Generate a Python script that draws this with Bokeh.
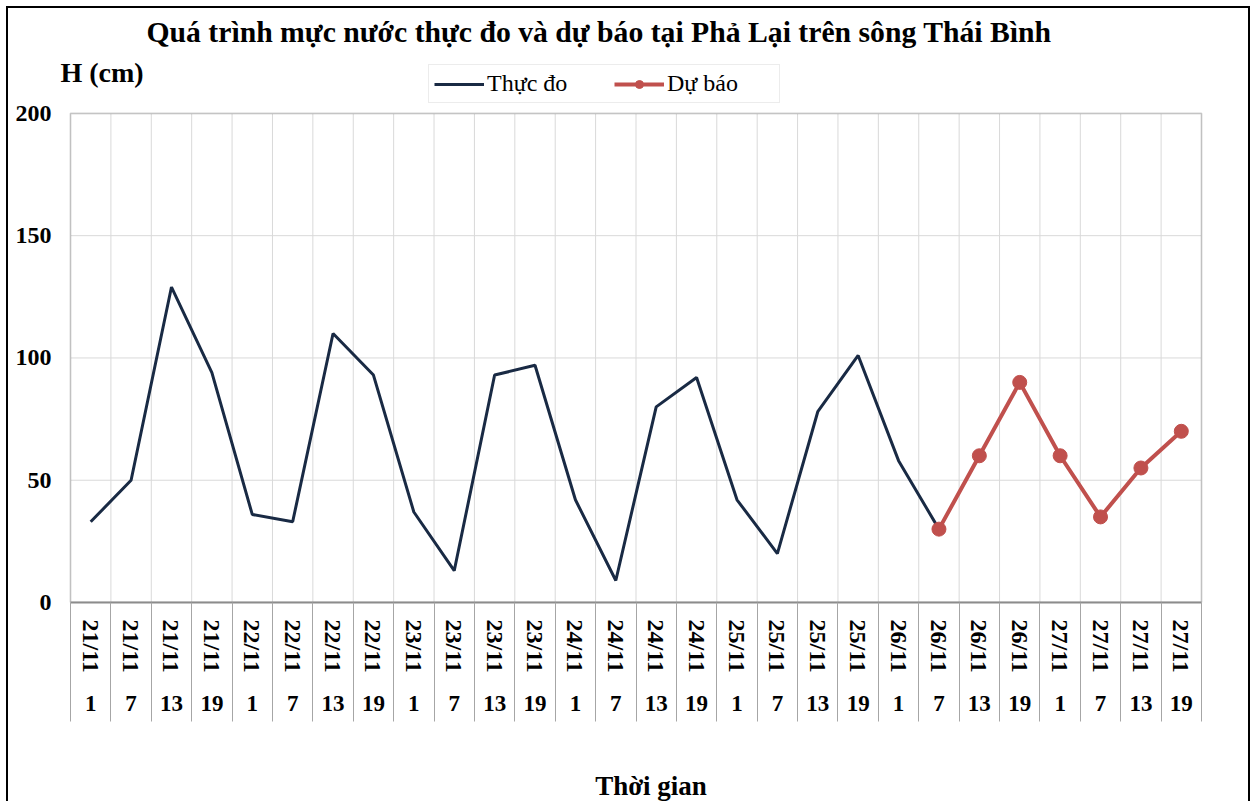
from bokeh.plotting import figure
from bokeh.models import (Range1d, LinearAxis, FixedTicker, Legend, LegendItem, Title,
                          Label, BoxAnnotation)
from bokeh.embed import file_html
from bokeh.resources import INLINE

# ---- data ----
dates = ["21/11", "21/11", "21/11", "21/11", "22/11", "22/11", "22/11", "22/11",
         "23/11", "23/11", "23/11", "23/11", "24/11", "24/11", "24/11", "24/11",
         "25/11", "25/11", "25/11", "25/11", "26/11", "26/11", "26/11", "26/11",
         "27/11", "27/11", "27/11", "27/11"]
hours = ["1", "7", "13", "19"] * 7
observed = [33, 50, 129, 94, 36, 33, 110, 93, 37, 13, 93, 97, 42, 9,
            80, 92, 42, 20, 78, 101, 58, 30]
forecast = [30, 60, 90, 60, 35, 55, 70]
y_ticks = [0, 50, 100, 150, 200]

FONT = "Liberation Serif"
NAVY = "#192a44"
RED = "#c0504d"
GRID = "#d9d9d9"
BOXC = "#8c8c8c"
n = len(dates)
idx = list(range(n))
obs_x = idx[:len(observed)]
fc_x = idx[len(observed) - 1:len(observed) - 1 + len(forecast)]
bounds = [i - 0.5 for i in range(n + 1)]
x_lo, x_hi = -0.5, n - 0.5
y_lo, y_hi = y_ticks[0], y_ticks[-1]

# frame is a little larger than the plot box so that the legend and unit label fit inside it
px_x = 1131 / n          # pixels per category
px_y = 490 / (y_hi - y_lo)
x_range = Range1d(x_lo - 15 / px_x, x_hi + 45 / px_x)
y_range = Range1d(y_lo, y_hi + 61 / px_y)

p = figure(width=1244, height=795, x_range=x_range, y_range=y_range,
           x_axis_type=None, output_backend="svg", toolbar_location=None, title_location=None,
           min_border_left=47, min_border_right=6, min_border_top=44, min_border_bottom=200)
p.styles = {"border-top": "2px solid black", "border-left": "2px solid black",
            "border-right": "2px solid black", "margin-left": "6px", "margin-top": "6px"}
p.background_fill_color = "white"
p.border_fill_color = "white"
p.outline_line_color = None
p.ygrid.visible = False

# grid lines limited to the plot box
p.segment(x0=bounds, y0=[y_lo] * len(bounds), x1=bounds, y1=[y_hi] * len(bounds),
          line_color=GRID, line_width=1)
p.segment(x0=[x_lo] * len(y_ticks), y0=y_ticks, x1=[x_hi] * len(y_ticks), y1=y_ticks,
          line_color=GRID, line_width=1)
p.add_layout(BoxAnnotation(left=x_lo, right=x_hi, bottom=y_lo, top=y_hi,
                           fill_alpha=0, line_color=BOXC, line_width=2))

# data
l1 = p.line(obs_x, observed, line_color=NAVY, line_width=3)
l2 = p.line(fc_x, forecast, line_color=RED, line_width=4)
s2 = p.scatter(fc_x, forecast, size=14, fill_color=RED, line_color=RED)

legend = Legend(items=[LegendItem(label="Thực đo", renderers=[l1]),
                       LegendItem(label="Dự báo", renderers=[l2, s2])],
                orientation="horizontal", location=(373, 499))
legend.label_text_font = FONT
legend.label_text_font_size = "24px"
legend.label_text_color = "black"
legend.glyph_width = 50
legend.glyph_height = 20
legend.label_standoff = 3
legend.label_width = 107
legend.spacing = 20
legend.padding = 5
legend.margin = 0
legend.border_line_color = GRID
legend.border_line_width = 1
legend.background_fill_color = "white"
legend.background_fill_alpha = 1
p.add_layout(legend)

p.add_layout(Label(x=x_lo, y=y_hi, x_offset=-10, y_offset=41, text="H (cm)",
                   text_font=FONT, text_font_style="bold", text_font_size="28px",
                   text_baseline="middle", text_align="left", text_color="black"))

p.add_layout(Title(text="Quá trình mực nước thực đo và dự báo tại Phả Lại trên sông Thái Bình",
                   align="left", offset=91, standoff=9, vertical_align="bottom",
                   text_font=FONT, text_font_style="bold", text_font_size="29.7px",
                   text_color="black"), "above")

# y axis
ya = p.yaxis[0]
ya.ticker = FixedTicker(ticks=y_ticks)
ya.bounds = (y_lo, y_hi)
ya.major_tick_in = 0
ya.major_tick_out = 0
ya.minor_tick_in = 0
ya.minor_tick_out = 0
ya.axis_line_color = None
ya.major_label_standoff = 4
ya.major_label_text_font = FONT
ya.major_label_text_font_style = "bold"
ya.major_label_text_font_size = "24px"
ya.major_label_text_color = "black"

# x axis: dates (minor ticks form the column separators)
xa1 = LinearAxis(ticker=FixedTicker(ticks=idx, minor_ticks=bounds), bounds=(x_lo, x_hi),
                 major_label_overrides={i: d for i, d in zip(idx, dates)})
xa1.major_label_orientation = "vertical"
xa1.major_tick_in = 0
xa1.major_tick_out = 0
xa1.minor_tick_in = 0
xa1.minor_tick_out = 119
xa1.minor_tick_line_color = "#a6a6a6"
xa1.minor_tick_line_width = 1
xa1.axis_line_color = BOXC
xa1.axis_line_width = 2
xa1.major_label_standoff = -102
xa1.major_label_text_font = FONT
xa1.major_label_text_font_style = "bold"
xa1.major_label_text_font_size = "24px"
xa1.major_label_text_color = "black"
p.add_layout(xa1, "below")

# x axis: hours
xa2 = LinearAxis(ticker=FixedTicker(ticks=idx), bounds=(x_lo, x_hi),
                 major_label_overrides={i: h for i, h in zip(idx, hours)})
xa2.major_tick_in = 0
xa2.major_tick_out = 0
xa2.minor_tick_in = 0
xa2.minor_tick_out = 0
xa2.axis_line_color = None
xa2.major_label_standoff = 20
xa2.major_label_text_font = FONT
xa2.major_label_text_font_style = "bold"
xa2.major_label_text_font_size = "23px"
xa2.major_label_text_color = "black"
xa2.axis_label = "Thời gian"
xa2.axis_label_text_font = FONT
xa2.axis_label_text_font_style = "bold"
xa2.axis_label_text_font_size = "27px"
xa2.axis_label_text_color = "black"
xa2.axis_label_standoff = 57
p.add_layout(xa2, "below")

open("out.html", "w").write(file_html(p, INLINE))
